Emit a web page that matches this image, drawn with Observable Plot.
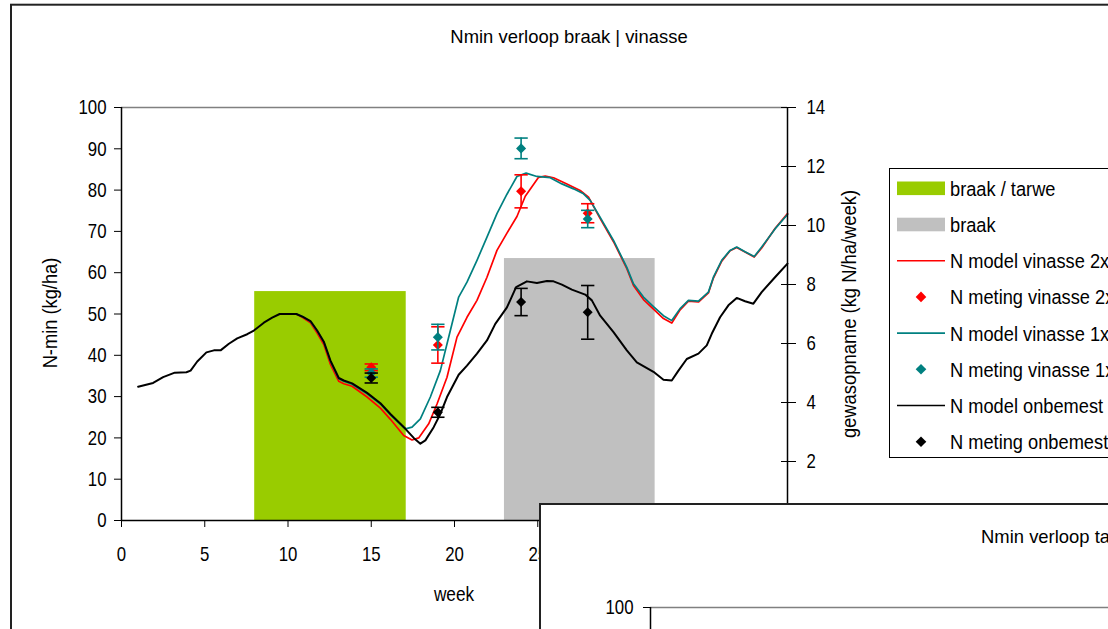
<!DOCTYPE html>
<html><head><meta charset="utf-8">
<script src="https://cdn.jsdelivr.net/npm/d3@7"></script>
<script src="https://cdn.jsdelivr.net/npm/@observablehq/plot@0.6"></script>
<style>
html,body{margin:0;padding:0;background:#fff;overflow:hidden;}
#wrap{position:relative;width:1108px;height:629px;overflow:hidden;font-family:"Liberation Sans",Arial,sans-serif;}
#main{position:absolute;left:0;top:0;}
#sub{position:absolute;left:539px;top:503px;width:600px;height:200px;background:#fff;border-left:2px solid #222;border-top:2px solid #222;overflow:hidden;}
#sub svg{position:absolute;left:0;top:0;}
</style></head><body><div id="wrap"><div id="main"></div><div id="sub"></div></div>
<script>
// ---------- texts ----------
const chartTitle = "Nmin verloop braak | vinasse";
const subTitle = "Nmin verloop ta";
const xLabel = "week";
const yLabelLeft = "N-min (kg/ha)";
const yLabelRight = "gewasopname (kg N/ha/week)";
const xTicks = [0, 5, 10, 15, 20, 25, 30, 35, 40];
const yTicksLeft = [0, 10, 20, 30, 40, 50, 60, 70, 80, 90, 100];
const yTicksRight = [0, 2, 4, 6, 8, 10, 12, 14];
const subTicks = [100];

// ---------- crop periods (gewasopname, right axis) ----------
const cropNames = ["braak / tarwe", "braak"];
const cropStart = [8, 23];
const cropEnd = [17.1, 32.05];
const cropUptake = [7.76, 8.88];
const cropColors = ["#99CC00", "#C0C0C0"];

// ---------- model lines ----------
const weeksOnb = [1.0,1.9,2.5,3.2,3.9,4.15,4.55,5.1,5.55,5.95,6.45,6.95,7.55,7.95,8.55,9.05,9.5,10.5,10.9,11.35,11.75,12.15,12.55,13.05,13.35,13.85,14.75,15.55,16.15,17.05,17.55,17.95,18.25,18.75,19.15,19.55,20.25,20.75,21.35,21.95,22.45,23.15,23.7,24.35,24.95,25.55,25.95,26.45,27.05,27.85,28.25,28.75,29.55,30.35,30.95,31.95,32.55,33.05,33.45,33.95,34.65,35.15,35.45,35.95,36.45,36.95,37.45,37.95,38.45,39.25,40.0];
const nModelOnb = [32.4,33.3,34.7,35.8,35.9,36.3,38.5,40.7,41.2,41.2,42.8,44.1,45.1,46.0,47.9,49.1,50.0,50.0,49.3,48.3,46.0,43.3,38.7,34.5,33.9,33.2,30.9,28.4,25.8,22.2,20.0,18.6,19.4,22.6,25.8,29.9,35.3,37.5,40.4,43.6,47.6,51.6,56.5,57.9,57.5,58.0,57.9,57.1,55.9,54.7,53.3,49.6,45.6,41.2,38.3,36.0,34.1,33.9,36.3,39.1,40.4,42.4,45.2,49.2,52.1,53.9,53.1,52.5,55.3,58.9,62.2];

const weeks1x = [10.5,10.9,11.35,11.75,12.15,12.55,13.05,13.35,13.85,14.75,15.55,16.15,17.05,17.45,17.95,18.55,19.15,19.75,20.25,20.75,21.35,21.95,22.55,23.15,23.75,24.3,24.95,25.75,26.45,27.15,27.75,28.15,28.75,29.55,30.35,30.75,31.35,31.95,32.55,33.05,33.55,34.05,34.65,35.25,35.55,36.05,36.55,36.95,37.45,38.0,38.45,39.25,40.0];
const nModel1x = [50.0,49.3,48.2,45.9,43.2,38.5,34.3,33.7,33.0,30.7,28.2,25.6,22.2,22.6,24.6,29.9,36.3,46.0,54.1,57.7,63.0,68.6,74.3,79.0,83.3,84.1,83.3,83.0,81.5,80.3,79.1,77.5,73.4,67.8,61.3,57.3,54.1,51.8,49.6,48.4,51.3,53.3,53.1,55.3,58.9,63.0,65.4,66.2,65.1,63.9,66.2,70.6,74.1];

const weeks2x = [10.5,10.9,11.35,11.75,12.15,12.55,13.05,13.35,13.85,14.75,15.55,16.15,16.95,17.45,17.85,18.45,18.95,19.55,20.15,20.75,21.35,21.95,22.55,23.15,23.75,24.25,25.05,25.45,25.95,26.75,27.55,28.05,28.75,29.55,30.35,30.75,31.35,31.95,32.55,33.05,33.55,34.05,34.65,35.25,35.55,36.05,36.55,36.95,37.45,38.0,38.45,39.25,40.0];
const nModel2x = [50.0,49.1,47.9,45.4,42.6,37.8,33.7,33.1,32.5,29.9,27.2,24.5,20.6,19.5,20.0,23.4,28.2,34.7,44.4,49.2,53.3,58.9,65.4,69.6,73.6,78.5,83.1,83.4,83.0,81.5,79.9,78.3,73.1,67.5,61.0,56.9,53.5,51.2,48.9,47.8,51.0,53.1,52.9,55.1,58.7,62.8,65.3,66.1,65.0,63.8,66.0,70.7,74.3];

// ---------- measurements (mean and error) ----------
const measWeeks = [15, 19, 24, 28];
const nMeting2x = [37.1, 42.5, 79.7, 74.4];
const err2x = [0.8, 4.4, 4.0, 2.3];
const nMeting1x = [35.7, 44.4, 90.1, 73.0];
const err1x = [1.0, 3.1, 2.5, 2.1];
const nMetingOnb = [34.5, 26.2, 52.9, 50.4];
const errOnb = [1.2, 1.2, 3.3, 6.5];

// ---------- legend ----------
const legendLabels = ["braak / tarwe","braak","N model vinasse 2x","N meting vinasse 2x","N model vinasse 1x","N meting vinasse 1x","N model onbemest","N meting onbemest"];
const legendKinds = ["rect","rect","line","dot","line","dot","line","dot"];
const legendColors = ["#99CC00","#C0C0C0","#FF0000","#FF0000","#008080","#008080","#000000","#000000"];

const RED = "#FF0000", TEAL = "#008080", BLACK = "#000000";
const toLeft = v => v * 100 / 14;

const crops = cropNames.map((name, i) => ({name, x1: cropStart[i], x2: cropEnd[i], uptake: cropUptake[i], color: cropColors[i]}));
const mkLine = (ws, vs) => ws.map((w, i) => ({week: w, n: vs[i]}));
const mkMeas = (vs, es) => measWeeks.map((w, i) => ({week: w, n: vs[i], e: es[i]}));

const lines = [
  {data: mkLine(weeks2x, nModel2x), color: RED, w: 1.7},
  {data: mkLine(weeks1x, nModel1x), color: TEAL, w: 1.7},
  {data: mkLine(weeksOnb, nModelOnb), color: BLACK, w: 2}
];
const meas = [
  {data: mkMeas(nMeting2x, err2x), color: RED},
  {data: mkMeas(nMeting1x, err1x), color: TEAL},
  {data: mkMeas(nMetingOnb, errOnb), color: BLACK}
];
const capHalf = 0.4;

const marks = [
  Plot.rectY(crops, {x1: "x1", x2: "x2", y: d => toLeft(d.uptake), fill: "color"}),
  Plot.ruleY([100], {stroke: "#808080", strokeWidth: 1.5})
];
for (const l of lines) marks.push(Plot.line(l.data, {x: "week", y: "n", stroke: l.color, strokeWidth: l.w}));
for (const m of meas) {
  marks.push(Plot.ruleX(m.data, {x: "week", y1: d => d.n - d.e, y2: d => d.n + d.e, stroke: m.color, strokeWidth: 1.6}));
  marks.push(Plot.link(m.data, {x1: d => d.week - capHalf, x2: d => d.week + capHalf, y1: d => d.n + d.e, y2: d => d.n + d.e, stroke: m.color, strokeWidth: 1.6}));
  marks.push(Plot.link(m.data, {x1: d => d.week - capHalf, x2: d => d.week + capHalf, y1: d => d.n - d.e, y2: d => d.n - d.e, stroke: m.color, strokeWidth: 1.6}));
  marks.push(Plot.dot(m.data, {x: "week", y: "n", symbol: "square", rotate: 45, r: 4, fill: m.color, stroke: "none"}));
}
marks.push(
  Plot.ruleX([0], {stroke: "#000", strokeWidth: 1.5}),
  Plot.ruleX([40], {stroke: "#000", strokeWidth: 1.5}),
  Plot.ruleY([0], {stroke: "#000", strokeWidth: 1.5}),
  Plot.axisX(xTicks, {tickSize: 7, tickPadding: 19, label: null, tickFormat: d => String(d)}),
  Plot.axisY(yTicksLeft, {tickSize: 7, tickPadding: 8, label: null}),
  Plot.axisY(yTicksRight.map(toLeft), {anchor: "right", tickSize: 15, dx: -7, tickPadding: 11, label: null, tickFormat: d => String(Math.round(d * 14 / 100))})
);

const chart = Plot.plot({
  width: 1108, height: 629,
  marginLeft: 121, marginRight: 321, marginTop: 107, marginBottom: 109,
  x: {domain: [0, 40]},
  y: {domain: [0, 100]},
  style: {fontFamily: '"Liberation Sans", Arial, sans-serif', fontSize: "21px", color: "black", background: "white", overflow: "hidden"},
  marks
});
document.getElementById("main").appendChild(chart);

function condense(nodes, k) {
  nodes.forEach(n => {
    const L = n.getComputedTextLength();
    if (L > 0) { n.setAttribute("textLength", (L * k).toFixed(2)); n.setAttribute("lengthAdjust", "spacingAndGlyphs"); }
  });
}
condense(chart.querySelectorAll("text"), 0.8);

const svg = d3.select(chart);
// chart border
svg.append("rect").attr("x", 11).attr("y", 4.7).attr("width", 1200).attr("height", 800)
  .attr("fill", "none").attr("stroke", "#222").attr("stroke-width", 2);

function addText(sel, txt, opts) {
  const t = sel.append("text").text(txt)
    .attr("font-family", '"Liberation Sans", Arial, sans-serif')
    .attr("font-size", opts.size).attr("fill", "#000")
    .attr("text-anchor", opts.anchor || "start");
  if (opts.rotate) t.attr("transform", `translate(${opts.x},${opts.y}) rotate(-90)`);
  else t.attr("x", opts.x).attr("y", opts.y);
  condense([t.node()], opts.k);
  return t;
}
addText(svg, chartTitle, {x: 569, y: 43, size: 19, anchor: "middle", k: 0.97});
addText(svg, xLabel, {x: 454, y: 601, size: 21, anchor: "middle", k: 0.82});
addText(svg, yLabelLeft, {x: 57, y: 313, size: 21, anchor: "middle", k: 0.87, rotate: true});
addText(svg, yLabelRight, {x: 856, y: 314, size: 21, anchor: "middle", k: 0.875, rotate: true});

// legend
const lg = svg.append("g");
lg.append("rect").attr("x", 889.5).attr("y", 168.5).attr("width", 400).attr("height", 289)
  .attr("fill", "#fff").attr("stroke", "#000").attr("stroke-width", 1);
legendLabels.forEach((lab, i) => {
  const cy = 188.3 + i * 36.2;
  const kind = legendKinds[i], c = legendColors[i];
  if (kind === "rect") lg.append("rect").attr("x", 897).attr("y", cy - 6.8).attr("width", 48).attr("height", 13.6).attr("fill", c);
  else if (kind === "line") lg.append("line").attr("x1", 897).attr("x2", 945).attr("y1", cy).attr("y2", cy).attr("stroke", c).attr("stroke-width", 1.6);
  else lg.append("path").attr("d", `M${921},${cy - 5.3}L${926.3},${cy}L${921},${cy + 5.3}L${915.7},${cy}Z`).attr("fill", c);
  addText(lg, lab, {x: 950, y: cy + 7.5, size: 20.5, k: 0.89});
});

// overlapping second chart (partially visible)
const sub = Plot.plot({
  width: 567, height: 520,
  marginLeft: 109, marginTop: 102, marginRight: 0, marginBottom: 0,
  x: {domain: [0, 40], axis: null},
  y: {domain: [0, 100]},
  style: {fontFamily: '"Liberation Sans", Arial, sans-serif', fontSize: "21px", color: "black", background: "white"},
  marks: [
    Plot.ruleY([100], {stroke: "#808080", strokeWidth: 1.5}),
    Plot.ruleX([0], {stroke: "#000", strokeWidth: 1.5}),
    Plot.axisY(subTicks, {tickSize: 7, tickPadding: 10, label: null})
  ]
});
document.getElementById("sub").appendChild(sub);
condense(sub.querySelectorAll("text"), 0.8);
addText(d3.select(sub), subTitle, {x: 440, y: 38, size: 19, k: 0.97});
</script></body></html>
